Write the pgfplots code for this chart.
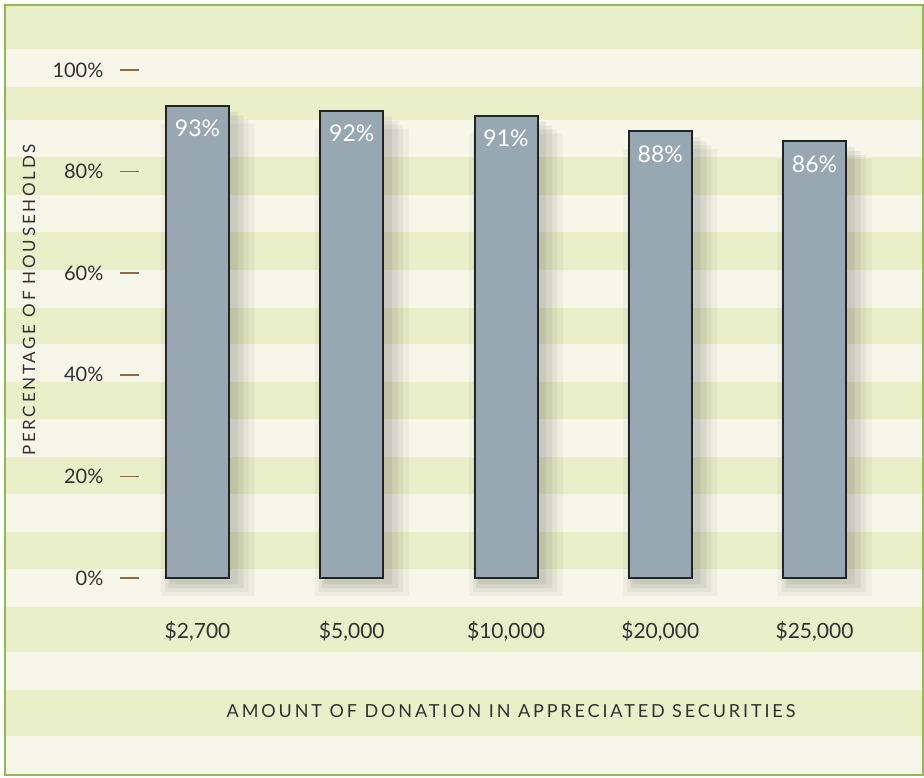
\documentclass[border=0pt]{standalone}
\usepackage{fontspec}
\setmainfont{Lato}
\newfontfamily\spaced[LetterSpace=16]{Lato}
\usepackage{pgfplots}
\pgfplotsset{compat=1.18}

\definecolor{stripeA}{RGB}{233,239,201}
\definecolor{stripeB}{RGB}{246,247,232}
\definecolor{frame}{RGB}{150,184,84}
\definecolor{barfill}{RGB}{152,168,179}
\definecolor{barline}{RGB}{35,35,38}
\definecolor{tickbrown}{RGB}{140,108,70}
\definecolor{txt}{RGB}{50,50,50}

\pgfplotstableread{
x  pct
0  93
1  92
2  91
3  88
4  86
}\shares

\begin{document}
\begin{tikzpicture}
% background, drawn in picture pixels (1px = 0.5pt, y down)
\begin{scope}[x=0.5pt, y=-0.5pt, yshift=388.5pt]
  \path (0,0) rectangle (924,777);
  \fill[stripeB] (5,5) rectangle (923,775);
  \foreach \a/\b in {5/49,87/120,157/195,232/270,308/344,382/419,457/494,532/569,607/652,690/736}
    \fill[stripeA] (5,\a) rectangle (923,\b);
  \draw[frame, line width=0.9pt] (5,5) rectangle (923,775);
  \node[font=\spaced\fontsize{8.5}{10}\selectfont, text=txt, rotate=90] at (29,300) {PERCENTAGE OF HOUSEHOLDS};
  \node[font=\spaced\fontsize{9}{11}\selectfont, text=txt] at (511,711) {AMOUNT OF DONATION IN APPRECIATED SECURITIES};
\end{scope}

\begin{axis}[
  at={(60.2pt,99.5pt)}, anchor=south west,
  scale only axis,
  width=385.625pt, height=254pt,
  xmin=-0.5, xmax=4.5, ymin=0, ymax=100,
  clip=false,
  axis line style={draw=none},
  xtick=data,
  xticklabels={{\$2,700},{\$5,000},{\$10,000},{\$20,000},{\$25,000}},
  xticklabel style={font=\fontsize{10.5}{12}\selectfont, text=txt, yshift=-8.5pt},
  ytick={0,20,40,60,80,100},
  yticklabel={\pgfmathprintnumber{\tick}\%},
  yticklabel style={font=\fontsize{10}{12}\selectfont, text=txt, xshift=-5pt},
  ytick pos=left,
  tick align=inside,
  major tick length=9.5pt,
  y tick style={draw=tickbrown, line width=0.8pt},
  x tick style={draw=none},
  /pgf/number format/assume math mode=true,
  ybar,
]
% soft shadow: stacked translucent bars
\addplot[draw=none, fill=black, fill opacity=0.035, bar width=47pt, bar shift=5pt, yshift=-9pt] table[x=x, y=pct] {\shares};
\addplot[draw=none, fill=black, fill opacity=0.045, bar width=42pt, bar shift=4.5pt, yshift=-7pt] table[x=x, y=pct] {\shares};
\addplot[draw=none, fill=black, fill opacity=0.05, bar width=38pt, bar shift=4pt, yshift=-5pt] table[x=x, y=pct] {\shares};
\addplot[draw=none, fill=black, fill opacity=0.06, bar width=34pt, bar shift=3pt, yshift=-3pt] table[x=x, y=pct] {\shares};
\addplot[fill=barfill, draw=barline, line width=1pt, bar width=31.5pt, bar shift=0pt,
  nodes near coords={\pgfmathprintnumber{\pgfplotspointmeta}\%},
  every node near coord/.append style={anchor=center, yshift=-11.5pt, text=white, font=\fontsize{11.5}{13}\selectfont}]
  table[x=x, y=pct] {\shares};
\end{axis}
\end{tikzpicture}
\end{document}
